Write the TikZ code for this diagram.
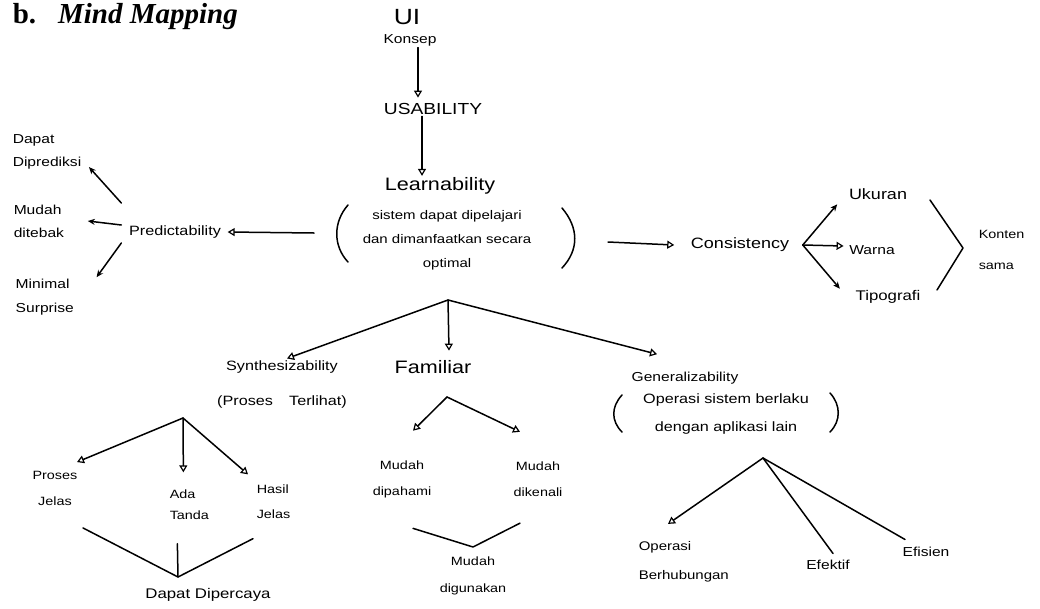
\documentclass[tikz,border=0pt]{standalone}
\usepackage{fontspec}
\setmainfont{Liberation Serif}
\newfontfamily\hand[FakeStretch=1.2]{Liberation Sans}
\usetikzlibrary{arrows.meta,calc}
\newcommand\hsz[2]{\fontsize{#1}{#2}\selectfont}

\begin{document}
\begin{tikzpicture}[x=1pt,y=-1pt,line width=1.5pt,line cap=round,line join=round,
  lbl/.style={inner sep=1pt,align=center},
  tri/.style={-{Triangle[open,length=7pt,width=8pt,line width=1.2pt]}},
  stl/.style={-{Stealth[length=7pt,width=6pt]}}]
\useasboundingbox (0,0) rectangle (1040,608);

% heading
\node[anchor=base west,inner sep=0,font=\hsz{29}{34}] (title) at (12,23)
  {\bfseries b.\hspace{22pt}\itshape Mind Mapping};

% central spine
\node[lbl,font=\hand\hsz{22}{26}] (ui) at (407,17) {UI};
\node[lbl,font=\hand\hsz{13}{16}] (konsep) at (410,40) {Konsep};
\node[lbl,font=\hand\hsz{16}{19}] (usab) at (433,109) {USABILITY};
\node[lbl,font=\hand\hsz{18}{22}] (learn) at (440,186) {Learnability};
\node[lbl,font=\hand\hsz{12.5}{24}] (learndesc) at (447,240)
  {sistem dapat dipelajari\\dan dimanfaatkan secara\\optimal};
\draw (348,205) .. controls (333,222) and (333,246) .. (348,262);
\draw (562,208) .. controls (579,228) and (579,250) .. (562,268);
\coordinate (lpar) at (314,233);
\coordinate (rpar) at (608,242);

\draw[tri] ([xshift=8pt]konsep.south) -- ([shift={(-15,-4)}]usab.north);
\draw[tri] ([xshift=-11pt]usab.south) -- ([xshift=-18pt]learn.north);

% predictability
\node[lbl,font=\hand\hsz{13.5}{16}] (pred) at (175,232) {Predictability};
\node[lbl,align=left,anchor=west,font=\hand\hsz{13}{23}] (dapat) at (11,152) {Dapat\\Diprediksi};
\node[lbl,align=left,anchor=west,font=\hand\hsz{13}{23}] (mudah) at (12,221) {Mudah\\ditebak};
\node[lbl,align=left,anchor=west,font=\hand\hsz{13}{24}] (minimal) at (14,297) {Minimal\\Surprise};
\draw[tri] (lpar) -- ([xshift=5pt]pred.east);
\draw[stl] ([shift={(-6,-29)}]pred.west) -- ([shift={(6,-4)}]dapat.south east);
\draw[stl] ([shift={(-6,-7)}]pred.west) -- ([xshift=22pt]mudah.east);
\draw[stl] ([shift={(-6,11)}]pred.west) -- ([xshift=21pt]minimal.north east);

% consistency
\node[lbl,font=\hand\hsz{15}{18}] (cons) at (740,245) {Consistency};
\node[lbl,font=\hand\hsz{15}{18}] (ukuran) at (878,194) {Ukuran};
\node[lbl,font=\hand\hsz{13}{16}] (warna) at (872,250) {Warna};
\node[lbl,font=\hand\hsz{14}{17}] (tipo) at (888,297) {Tipografi};
\node[lbl,align=left,anchor=west,font=\hand\hsz{12}{31}] (konten) at (977,250) {Konten\\sama};
\coordinate (cfork) at ([xshift=12pt]cons.east);
\draw[tri] (rpar) -- ([xshift=-15pt]cons.west);
\draw[stl] (cfork) -- ([shift={(-10,3)}]ukuran.south west);
\draw[tri] (cfork) -- ([shift={(-4,-4)}]warna.west);
\draw[stl] (cfork) -- ([xshift=-14pt]tipo.north west);
\draw (930,200) -- (963,248) -- (937,290);

% lower branches
\coordinate (lapex) at (448,300);
\node[lbl,font=\hand\hsz{13.5}{35}] (synth) at (282,384) {Synthesizability\\(Proses\hspace{1.2em}Terlihat)};
\node[lbl,font=\hand\hsz{18}{22}] (famil) at (433,367) {Familiar};
\node[lbl,font=\hand\hsz{13}{16}] (gen) at (685,378) {Generalizability};
\node[lbl,font=\hand\hsz{13.5}{28}] (gendesc) at (726,414) {Operasi sistem berlaku\\dengan aplikasi lain};
\draw (622,395) .. controls (611,407) and (611,421) .. (622,432);
\draw (830,393) .. controls (841,405) and (841,421) .. (830,432);
\draw[tri] (lapex) -- ([xshift=5pt]synth.north);
\draw[tri] (lapex) -- ([shift={(16,-8)}]famil.north);
\draw[tri] (lapex) -- ([shift={(-28,-16)}]gen.north);

% synthesizability
\coordinate (sapex) at (183,418);
\node[lbl,font=\hand\hsz{12}{26}] (pjelas) at (55,488) {Proses\\Jelas};
\node[lbl,align=left,anchor=west,font=\hand\hsz{12}{21}] (atanda) at (168,505) {Ada\\Tanda};
\node[lbl,align=left,anchor=west,font=\hand\hsz{12}{25}] (hjelas) at (255,502) {Hasil\\Jelas};
\node[lbl,font=\hand\hsz{14}{17}] (dapatdp) at (208,595) {Dapat Dipercaya};
\coordinate (sjoin) at (178,577);
\draw[tri] (sapex) -- ([shift={(22,-7)}]pjelas.north);
\draw[tri] (sapex) -- ([shift={(-6,-16)}]atanda.north);
\draw[tri] (sapex) -- ([shift={(-7,-9)}]hjelas.north west);
\draw ([shift={(28,21)}]pjelas.south) -- (sjoin) -- ([shift={(-2,18)}]hjelas.south west);
\draw ([shift={(-12,22)}]atanda.south) -- (sjoin);

% familiar
\coordinate (fapex) at (447,397);
\node[lbl,font=\hand\hsz{12}{26}] (mpahami) at (402,479) {Mudah\\dipahami};
\node[lbl,font=\hand\hsz{12}{26}] (mkenali) at (538,479) {Mudah\\dikenali};
\node[lbl,font=\hand\hsz{12}{27}] (mgun) at (473,576) {Mudah\\digunakan};
\coordinate (fjoin) at (473,547);
\draw[tri] (fapex) -- ([shift={(11,-28)}]mpahami.north);
\draw[tri] (fapex) -- ([shift={(-18,-28)}]mkenali.north);
\draw ([shift={(11,29)}]mpahami.south) -- (fjoin) -- ([shift={(-18,25)}]mkenali.south);

% generalizability
\coordinate (gapex) at (763,458);
\node[lbl,align=left,anchor=west,font=\hand\hsz{12.5}{29}] (ops) at (637,562) {Operasi\\Berhubungan};
\node[lbl,font=\hand\hsz{13}{16}] (efektif) at (828,565) {Efektif};
\node[lbl,font=\hand\hsz{13}{16}] (efisien) at (926,552) {Efisien};
\draw[tri] (gapex) -- ([shift={(31,-16)}]ops.north west);
\draw (gapex) -- ([shift={(5,-5)}]efektif.north);
\draw (gapex) -- ([shift={(-21,-6)}]efisien.north);
\end{tikzpicture}
\end{document}
